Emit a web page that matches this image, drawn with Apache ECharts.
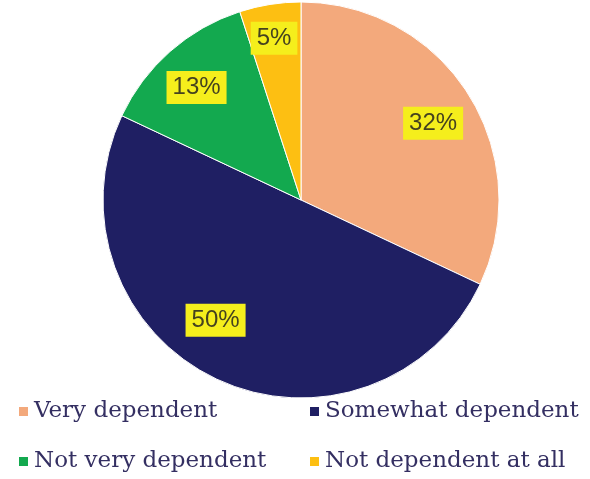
<!DOCTYPE html>
<html>
<head>
<meta charset="utf-8">
<script src="https://cdn.jsdelivr.net/npm/echarts@6/dist/echarts.min.js"></script>
<style>
  html, body { margin: 0; padding: 0; background: #ffffff; }
  #chart { width: 590px; height: 479px; }
</style>
</head>
<body>
<div id="chart"></div>
<script>
// Share of respondents by level of dependence
const categories = ['Very dependent', 'Somewhat dependent', 'Not very dependent', 'Not dependent at all'];
const shares = [32, 50, 13, 5];
const colors = ['#F3A97C', '#1F1F63', '#13A94F', '#FDBF12'];
// Label nudges from the default inside position, per slice
const labelOffsets = [[46, -22], [-42, 28], [-37, -36], [-11, -61]];
// Legend grid: two columns, two rows
const legendCols = [12, 303];
const legendRows = [395, 445];

const chart = echarts.init(document.getElementById('chart'));

const legends = categories.map((name, i) => ({
  data: [name],
  left: legendCols[i % 2],
  top: legendRows[Math.floor(i / 2)],
  icon: 'rect',
  itemWidth: 11,
  itemHeight: 11,
  textStyle: {
    fontFamily: 'DejaVu Serif',
    fontSize: 23,
    color: '#342F62'
  }
}));

chart.setOption({
  animation: false,
  backgroundColor: '#ffffff',
  color: colors,
  legend: legends,
  series: [{
    type: 'pie',
    center: [301, 200],
    radius: [0, 198],
    startAngle: 90,
    clockwise: true,
    label: {
      show: true,
      position: 'inside',
      formatter: '{c}%',
      fontFamily: 'Liberation Sans',
      fontSize: 24,
      color: '#45421F',
      backgroundColor: '#F5EE1C',
      padding: [5, 6, 4, 6]
    },
    labelLine: { show: false },
    itemStyle: { borderColor: '#ffffff', borderWidth: 1 },
    emphasis: { disabled: true },
    data: categories.map((name, i) => ({
      name: name,
      value: shares[i],
      label: { offset: labelOffsets[i] }
    }))
  }]
});
</script>
</body>
</html>
